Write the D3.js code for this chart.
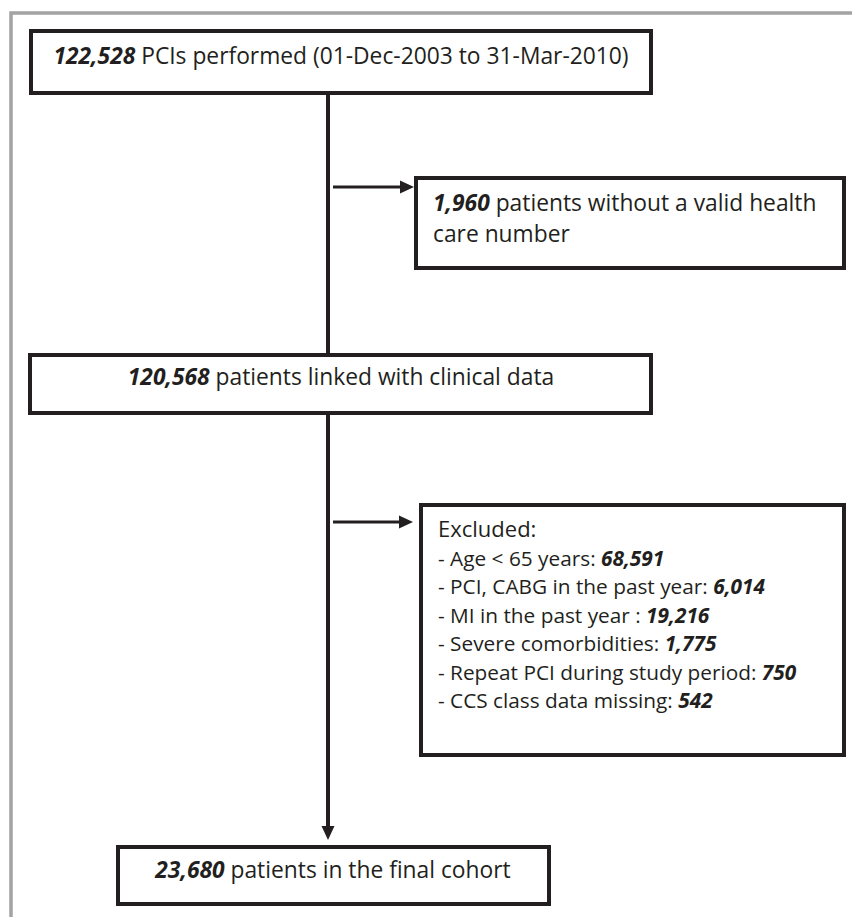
<!DOCTYPE html>
<html>
<head>
<meta charset="utf-8">
<script src="https://cdn.jsdelivr.net/npm/d3@7"></script>
<style>
	html, body { margin: 0; padding: 0; background: #fff; overflow: hidden; }
	svg text { font-family: "Open Sans", "Noto Sans", sans-serif; fill: #231f20; }
	.num { font-weight: bold; font-style: italic; }
</style>
</head>
<body>
<svg id="chart" width="852" height="917"></svg>
<script>
// flow counts, top to bottom
var stepCounts = ["122,528", "120,568", "23,680"];
var stepLabels = [
	" PCIs performed (01-Dec-2003 to 31-Mar-2010)",
	" patients linked with clinical data",
	" patients in the final cohort"
];
var droppedCount = "1,960";
var droppedLines = [" patients without a valid health", "care number"];
var exclusionTitle = "Excluded:";
var exclusionReasons = [
	"- Age < 65 years: ",
	"- PCI, CABG in the past year: ",
	"- MI in the past year : ",
	"- Severe comorbidities: ",
	"- Repeat PCI during study period: ",
	"- CCS class data missing: "
];
var exclusionCounts = ["68,591", "6,014", "19,216", "1,775", "750", "542"];

var svg = d3.select("#chart");
var ink = "#231f20";
var fontSize = 22.8;
var listSize = 20.8;
var spineX = 328;

// outer frame, only top and left edges fall inside the picture
svg.append("rect")
	.attr("x", 11).attr("y", 13)
	.attr("width", 1000).attr("height", 1000)
	.attr("fill", "none")
	.attr("stroke", "#a3a3a3")
	.attr("stroke-width", 3.5);

// box geometry (stroke centre lines)
var mainBoxes = [
	{ x: 31, y: 31, w: 620, h: 62, cx: 341, base: 64 },
	{ x: 30, y: 355, w: 621, h: 58, cx: 341, base: 385 },
	{ x: 118, y: 847, w: 431, h: 57, cx: 333, base: 878 }
];
var sideBoxes = [
	{ x: 416, y: 178, w: 428, h: 90 },
	{ x: 421, y: 505, w: 423, h: 250 }
];

function drawBox(b) {
	svg.append("rect")
		.attr("x", b.x).attr("y", b.y)
		.attr("width", b.w).attr("height", b.h)
		.attr("fill", "#fff")
		.attr("stroke", ink)
		.attr("stroke-width", 4);
}

// connecting lines
var line = d3.line();
function arrowHead(tip, dir) {
	// dir: "right" or "down"
	var len = 14, half = 6.5;
	var pts = dir == "right"
		? [[tip[0], tip[1]], [tip[0] - len, tip[1] - half], [tip[0] - len, tip[1] + half]]
		: [[tip[0], tip[1]], [tip[0] - half, tip[1] - len], [tip[0] + half, tip[1] - len]];
	svg.append("path").attr("d", line(pts) + "Z").attr("fill", ink);
}

svg.append("path")
	.attr("d", line([[spineX, 93], [spineX, 355]]))
	.attr("stroke", ink).attr("stroke-width", 4);
svg.append("path")
	.attr("d", line([[spineX, 413], [spineX, 828]]))
	.attr("stroke", ink).attr("stroke-width", 4);
arrowHead([spineX, 840], "down");

var branchY = [187, 522];
var branchTip = [414, 413];
branchY.forEach(function(y, i) {
	svg.append("path")
		.attr("d", line([[spineX + 5, y], [branchTip[i] - 10, y]]))
		.attr("stroke", ink).attr("stroke-width", 3);
	arrowHead([branchTip[i], y], "right");
});

mainBoxes.forEach(drawBox);
sideBoxes.forEach(drawBox);

// main step texts
mainBoxes.forEach(function(b, i) {
	var t = svg.append("text")
		.attr("x", b.cx).attr("y", b.base)
		.attr("text-anchor", "middle")
		.attr("font-size", fontSize);
	t.append("tspan").attr("class", "num").text(stepCounts[i]);
	t.append("tspan").text(stepLabels[i]);
});

// records dropped at linkage
var t1 = svg.append("text").attr("x", 433).attr("y", 211).attr("font-size", fontSize);
t1.append("tspan").attr("class", "num").text(droppedCount);
t1.append("tspan").text(droppedLines[0]);
svg.append("text").attr("x", 433).attr("y", 242).attr("font-size", fontSize).text(droppedLines[1]);

// exclusion list
var rowY = d3.scaleLinear().domain([0, 1]).range([537, 565.5]);
svg.append("text").attr("x", 438).attr("y", rowY(0)).attr("font-size", 22).text(exclusionTitle);
exclusionReasons.forEach(function(r, i) {
	var t = svg.append("text")
		.attr("x", 438).attr("y", rowY(i + 1))
		.attr("font-size", listSize);
	t.append("tspan").text(r);
	t.append("tspan").attr("class", "num").text(exclusionCounts[i]);
});
</script>
</body>
</html>
